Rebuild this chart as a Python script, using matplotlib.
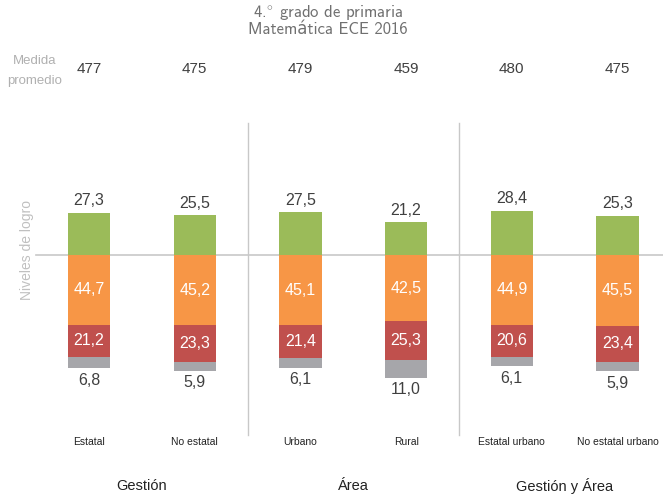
import matplotlib.pyplot as plt

categories = ['Estatal', 'No estatal', 'Urbano', 'Rural', 'Estatal urbano', 'No estatal urbano']
groups = ['Gestión', 'Área', 'Gestión y Área']
medida = [477, 475, 479, 459, 480, 475]
satisfactorio = [27.3, 25.5, 27.5, 21.2, 28.4, 25.3]
en_proceso = [44.7, 45.2, 45.1, 42.5, 44.9, 45.5]
en_inicio = [21.2, 23.3, 21.4, 25.3, 20.6, 23.4]
previo = [6.8, 5.9, 6.1, 11.0, 6.1, 5.9]

GREEN = '#9bbb59'
ORANGE = '#f79646'
RED = '#c0504d'
GRAY = '#a6a6aa'
TXT = '#404040'

plt.rcParams['font.family'] = ['Liberation Sans', 'DejaVu Sans']
plt.rcParams['mathtext.fontset'] = 'cm'

W, H = 663, 494
fig = plt.figure(figsize=(W / 100, H / 100), dpi=100)
ax = fig.add_axes([0, 0, 1, 1])
ax.axis('off')

# pixel -> data mapping: bar i centred at 89 + i*105.7 px, baseline at y=255 px
x0, dx = 89, 105.7
y0, k = 255, 1.555
ax.set_xlim(-x0 / dx, (W - x0) / dx)
ax.set_ylim((y0 - H) / k, y0 / k)

def py(p):
    return (y0 - p) / k

def px(p):
    return (p - x0) / dx

def fmt(v):
    return f'{v:.1f}'.replace('.', ',')

xs = list(range(len(categories)))
w = 0.4
neg1 = [-v for v in en_proceso]
neg2 = [-(a + b) for a, b in zip(en_proceso, en_inicio)]
ax.bar(xs, satisfactorio, w, color=GREEN, zorder=2)
ax.bar(xs, neg1, w, color=ORANGE, zorder=2)
ax.bar(xs, [-v for v in en_inicio], w, bottom=neg1, color=RED, zorder=2)
ax.bar(xs, [-v for v in previo], w, bottom=neg2, color=GRAY, zorder=2)

ax.plot([px(36), px(W)], [0, 0], color='#c8c8c8', lw=1.2, zorder=1)
for sx in [1.5, 3.5]:
    ax.plot([sx, sx], [py(123), py(435)], color='#c8c8c8', lw=1, zorder=1)

for i in xs:
    ax.text(i, satisfactorio[i] + 12 / k, fmt(satisfactorio[i]), ha='center', va='center',
            fontsize=11.5, color=TXT)
    ax.text(i, -en_proceso[i] / 2, fmt(en_proceso[i]), ha='center', va='center',
            fontsize=11.5, color='white')
    ax.text(i, -en_proceso[i] - en_inicio[i] / 2, fmt(en_inicio[i]), ha='center', va='center',
            fontsize=11.5, color='white')
    bot = en_proceso[i] + en_inicio[i] + previo[i]
    ax.text(i, -bot - 12 / k, fmt(previo[i]), ha='center', va='center',
            fontsize=11.5, color=TXT)
    ax.text(i, py(69), str(medida[i]), ha='center', va='center', fontsize=11, color=TXT)
    ax.text(i, py(442), categories[i], ha='center', va='center', fontsize=7.5, color='#222222')

for j, g in enumerate(groups):
    ax.text(2 * j + 0.5, py(486), g, ha='center', va='center', fontsize=10.5, color='#222222')

ax.text(px(35), py(61), 'Medida', ha='center', va='center', fontsize=9.5, color='#b0b0b0')
ax.text(px(35), py(81), 'promedio', ha='center', va='center', fontsize=9.5, color='#b0b0b0')
ax.text(px(27), py(250), 'Niveles de logro', ha='center', va='center', rotation=90,
        fontsize=10, color='#c0c0c0')

fig.text(328 / W, 1 - 12 / H, r'4.$^{\circ}$ grado de primaria', ha='center', va='center',
         fontsize=12, color='#707070', family=['cmss10', 'DejaVu Sans'])
fig.text(328 / W, 1 - 30 / H, 'Matemática ECE 2016', ha='center', va='center', fontsize=12,
         color='#707070', family=['cmss10', 'DejaVu Sans'])

fig.savefig('out.png', dpi=100)
